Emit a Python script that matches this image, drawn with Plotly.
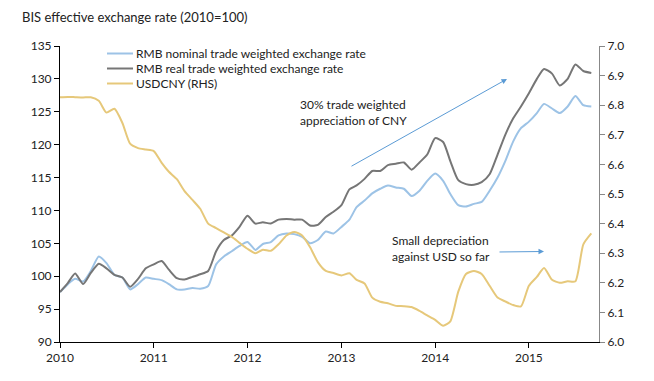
import plotly.graph_objects as go
import pandas as pd

dates = pd.date_range("2010-01-01", periods=69, freq="MS")

nominal = [97.6, 98.8, 99.6, 99.2, 100.8, 103.0, 102.0, 100.2, 99.8, 98.0,
           98.8, 99.8, 99.6, 99.4, 98.8, 98.0, 98.0, 98.2, 98.1, 98.5,
           101.8, 103.0, 103.8, 104.6, 105.2, 104.0, 104.9, 105.2, 106.2, 106.5,
           106.4, 106.0, 105.0, 105.5, 106.8, 106.5, 107.5, 108.6, 110.5, 111.5,
           112.6, 113.3, 113.8, 113.5, 113.3, 112.2, 113.0, 114.5, 115.6, 114.5,
           112.5, 110.8, 110.6, 111.0, 111.3, 113.0, 115.0, 117.5, 120.5, 122.5,
           123.5, 124.8, 126.2, 125.5, 124.8, 125.8, 127.4, 126.0, 125.8]

real = [97.6, 99.0, 100.4, 98.8, 100.5, 101.9, 101.2, 100.2, 99.8, 98.4,
        99.6, 101.2, 101.8, 102.3, 101.0, 99.7, 99.5, 99.9, 100.3, 100.8,
        103.8, 105.5, 106.2, 107.5, 109.2, 108.0, 108.2, 108.0, 108.6, 108.7,
        108.6, 108.6, 107.7, 107.8, 109.0, 109.8, 110.8, 113.2, 113.8, 114.8,
        116.0, 116.0, 116.9, 117.1, 117.3, 116.2, 117.3, 118.5, 121.0, 120.4,
        117.5, 114.6, 114.0, 113.9, 114.3, 115.5, 118.5, 121.5, 124.0, 125.8,
        127.8, 130.0, 131.5, 130.8, 129.0, 130.0, 132.2, 131.2, 130.9]

usdcny = [6.827, 6.828, 6.827, 6.826, 6.827, 6.815, 6.775, 6.788, 6.74, 6.67,
          6.655, 6.65, 6.645, 6.605, 6.575, 6.55, 6.51, 6.48, 6.45, 6.40,
          6.385, 6.37, 6.355, 6.335, 6.315, 6.30, 6.312, 6.308, 6.33, 6.36,
          6.372, 6.36, 6.32, 6.27, 6.24, 6.233, 6.225, 6.232, 6.21, 6.198,
          6.15, 6.136, 6.131, 6.122, 6.121, 6.118, 6.105, 6.09, 6.075, 6.055,
          6.07, 6.17, 6.23, 6.24, 6.23, 6.19, 6.15, 6.137, 6.125, 6.12,
          6.19, 6.22, 6.25, 6.21, 6.2, 6.205, 6.205, 6.33, 6.367]

series_names = ["RMB nominal trade weighted exchange rate",
                "RMB real trade weighted exchange rate",
                "USDCNY (RHS)"]
series_colors = ["#9DC3E6", "#767676", "#E6C87A"]

year_ticks = ["2010-01-01", "2011-01-01", "2012-01-01", "2013-01-01", "2014-01-01", "2015-01-01"]
year_labels = ["2010", "2011", "2012", "2013", "2014", "2015"]

FONT = "Lato, Calibri, Carlito, sans-serif"

W, H = 654, 381
ML, MR, MT, MB = 60, 55, 46, 39
PW, PH = W - ML - MR, H - MT - MB


def px(x):
    return (x - ML) / PW


def py(y):
    return (H - MB - y) / PH


fig = go.Figure()
for vals, name, color, ax in zip([nominal, real, usdcny], series_names, series_colors, ["y", "y", "y2"]):
    fig.add_trace(go.Scatter(x=dates, y=vals, name=name, yaxis=ax, mode="lines",
                             showlegend=False,
                             line=dict(color=color, width=2, shape="spline", smoothing=0.6)))

shapes = []
annotations = [
    dict(text="BIS effective exchange rate (2010=100)", xref="paper", yref="paper",
         x=px(20), y=py(17), xanchor="left", yanchor="middle", showarrow=False,
         font=dict(size=13)),
    dict(text="30% trade weighted<br>appreciation of CNY", xref="paper", yref="paper",
         x=px(298), y=py(112), xanchor="left", yanchor="middle",
         align="left", showarrow=False, font=dict(size=12)),
    dict(text="Small depreciation<br>against USD so far", xref="paper", yref="paper",
         x=px(390), y=py(248), xanchor="left", yanchor="middle",
         align="left", showarrow=False, font=dict(size=12)),
    dict(text="", xref="paper", yref="paper", x=px(507), y=py(79),
         ax=-157, ay=88, showarrow=True, arrowhead=2, arrowsize=1.1, arrowwidth=1,
         arrowcolor="#5B9BD5"),
    dict(text="", xref="paper", yref="paper", x=px(544), y=py(251.5),
         ax=-46, ay=0.5, showarrow=True, arrowhead=2, arrowsize=1.1, arrowwidth=1,
         arrowcolor="#5B9BD5"),
]

legend_rows = [53.5, 68.5, 83.5]
for name, color, yrow in zip(series_names, series_colors, legend_rows):
    shapes.append(dict(type="line", xref="paper", yref="paper",
                       x0=px(107), x1=px(133), y0=py(yrow), y1=py(yrow),
                       line=dict(color=color, width=2)))
    annotations.append(dict(text=name, xref="paper", yref="paper", x=px(134), y=py(yrow),
                            xanchor="left", yanchor="middle", showarrow=False,
                            font=dict(size=12)))

fig.update_layout(
    width=W, height=H,
    margin=dict(l=ML, r=MR, t=MT, b=MB),
    paper_bgcolor="white", plot_bgcolor="white",
    font=dict(family=FONT, size=12, color="#222222"),
    showlegend=False,
    hovermode=False,
    xaxis=dict(type="date", range=["2010-01-01", "2015-10-01"],
               tickvals=year_ticks, ticktext=year_labels,
               showline=True, linecolor="black", linewidth=1,
               ticks="outside", ticklen=5, tickcolor="black",
               showgrid=False, zeroline=False),
    yaxis=dict(range=[90, 135], dtick=5, showline=True, linecolor="black", linewidth=1,
               ticks="outside", ticklen=5, tickcolor="black", showgrid=False, zeroline=False),
    yaxis2=dict(range=[6.0, 7.0], dtick=0.1, tickformat=".1f", overlaying="y", side="right",
                showline=True, linecolor="#888888", linewidth=1,
                ticks="outside", ticklen=5, tickcolor="#888888", showgrid=False, zeroline=False),
    shapes=shapes,
    annotations=annotations,
)

fig.write_html("out.html", config={"displayModeBar": False},
               post_script="document.body.style.margin='0';")
